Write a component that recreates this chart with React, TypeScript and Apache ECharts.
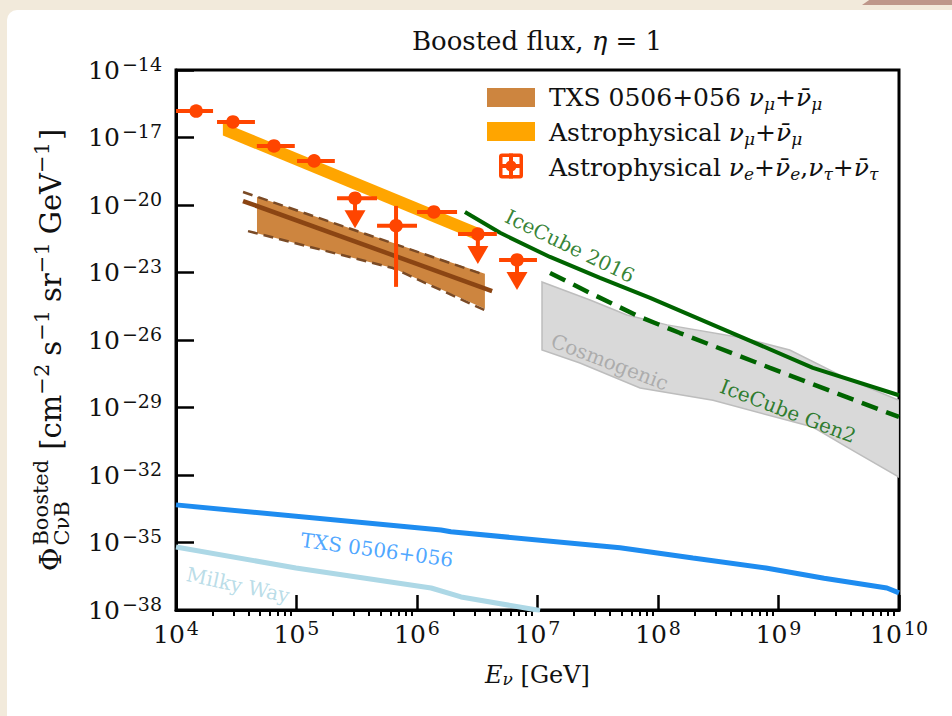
import React, { useEffect, useRef } from "react";
import * as echarts from "echarts";

const FONT = "'DejaVu Serif', 'Liberation Serif', serif";
const RED = "#FF4500";
const INK = "#111";

// ---------- axis ticks ----------
const xMajorTicks = [1e4, 1e5, 1e6, 1e7, 1e8, 1e9, 1e10];
const xMinorMultipliers = [2, 3, 4, 5, 6, 7, 8, 9];
const xMinorDecades = [1e4, 1e5, 1e6, 1e7, 1e8, 1e9];
const yMajorTicks = [1e-38, 1e-35, 1e-32, 1e-29, 1e-26, 1e-23, 1e-20, 1e-17, 1e-14];

// ---------- Astrophysical nu_e, nu_tau (error bars) ----------
const astroE = [1.47e4, 2.97e4, 6.5e4, 1.4e5, 3.06e5, 6.7e5, 1.38e6, 3.2e6, 6.76e6];
const astroF = [1.5e-16, 4.9e-17, 4.2e-18, 9.1e-19, 2.0e-20, 1.2e-21, 4.9e-21, 5.1e-22, 3.6e-23];
const astroElo = [1.0e4, 2.19e4, 4.69e4, 1.01e5, 2.17e5, 4.66e5, 1.0e6, 2.19e6, 4.8e6];
const astroEhi = [2.03e4, 4.52e4, 9.68e4, 2.08e5, 4.66e5, 1.0e6, 2.15e6, 4.6e6, 9.9e6];
const astroFlo = [1.5e-16, 4.9e-17, 4.2e-18, 9.1e-19, 2.0e-20, 2.3e-24, 4.9e-21, 5.1e-22, 3.6e-23];
const astroFhi = [1.5e-16, 4.9e-17, 4.2e-18, 9.1e-19, 2.0e-20, 9.1e-21, 4.9e-21, 5.1e-22, 3.6e-23];
const astroUL = [0, 0, 0, 0, 1, 0, 0, 1, 1];

// ---------- Astrophysical nu_mu band ----------
const astroMuE = [2.45e4, 3.2e6];
const astroMuLo = [1.23e-17, 2.6e-22];
const astroMuHi = [4.7e-17, 1.0e-21];

// ---------- TXS 0506+056 nu_mu band ----------
const txsBandE = [4.7e4, 6.3e5, 3.66e6];
const txsBandLo = [5.5e-22, 1.58e-23, 2.45e-25];
const txsBandHi = [2.34e-20, 2.1e-22, 8.7e-24];
const txsUpperE = [3.6e4, 3.66e6];
const txsUpperF = [3.8e-20, 7.8e-24];
const txsLowerE = [3.96e4, 6.3e5, 3.66e6];
const txsLowerF = [6.9e-22, 1.58e-23, 2.1e-25];
const txsMidE = [3.6e4, 4.2e6];
const txsMidF = [1.5e-20, 1.5e-24];

// ---------- IceCube ----------
const ic2016E = [2.5e6, 4.89e6, 1.27e7, 3.3e7, 8.6e7, 2.86e8, 1.93e9, 1e10];
const ic2016F = [4.9e-21, 5.8e-22, 4.9e-23, 5.8e-24, 7.4e-25, 4.7e-26, 5.8e-28, 3.5e-29];
const gen2E = [1.27e7, 2.73e7, 7.1e7, 1.52e8, 8.5e8, 1e10];
const gen2F = [9.5e-24, 1.23e-24, 1.05e-25, 2.04e-26, 5.8e-28, 3.8e-30];

// ---------- Cosmogenic band ----------
const cosmoTopE = [1.09e7, 2.73e7, 5.53e7, 1.19e8, 5.07e8, 1.24e9, 3.92e9, 1e10];
const cosmoTopF = [3.8e-24, 6.0e-25, 1.29e-25, 4.7e-26, 1.23e-26, 3.6e-27, 1.66e-28, 2.1e-29];
const cosmoBotE = [1.09e7, 2.25e7, 7.1e7, 2.86e8, 1.93e9, 3.7e9, 1e10];
const cosmoBotF = [3.6e-27, 9.5e-28, 7.4e-29, 2.1e-29, 1.35e-30, 1.74e-31, 8.1e-33];

// ---------- Boosted CnuB fluxes ----------
const txsBoostE = [1e4, 1.58e6, 1.91e6, 4.84e7, 1.95e8, 7.87e8, 2.39e9, 7.94e9, 1e10];
const txsBoostF = [4.7e-34, 3.6e-35, 3.0e-35, 5.8e-36, 2.04e-36, 7.4e-37, 2.6e-37, 9.5e-38, 5.8e-38];
const milkyE = [1e4, 9.9e4, 1.31e6, 2.32e6, 1.05e7];
const milkyF = [6.3e-36, 7.4e-37, 9.5e-38, 3.8e-38, 9.5e-39];

// ---------- annotations ----------
const annoText = ["IceCube 2016", "IceCube Gen2", "Cosmogenic", "TXS 0506+056", "Milky Way"];
const annoE = [1.86e7, 1.2e9, 3.98e7, 4.66e5, 3.27e4];
const annoF = [1.5e-22, 6.9e-30, 1.05e-27, 4.7e-36, 1.3e-37];
const annoRot = [-26, -21, -21, -7.5, -12];
const annoColor = ["#006400", "#006400", "#A0A0A0", "#1E90FF", "#A8D4E2"];

function pairs(E: number[], F: number[]) {
  return E.map((e, i) => [e, F[i]]);
}

function polygonSeries(name: string, verts: number[][], style: any, z: number) {
  return {
    type: "custom",
    name,
    z,
    silent: true,
    coordinateSystem: "cartesian2d",
    clip: true,
    data: verts,
    encode: { x: 0, y: 1 },
    renderItem: (params: any, api: any) => {
      if (params.dataIndex !== 0) return null;
      const pts = verts.map((v) => api.coord(v));
      return { type: "polygon", shape: { points: pts }, style };
    },
  };
}

function lineSeries(name: string, E: number[], F: number[], color: string, width: number, type: any, z: number) {
  return {
    type: "line",
    name,
    z,
    silent: true,
    clip: true,
    showSymbol: false,
    symbol: "none",
    data: pairs(E, F),
    lineStyle: { color, width, type, cap: "butt" },
  };
}

export default function App() {
  const ref = useRef<HTMLDivElement>(null);

  useEffect(() => {
    const el = ref.current;
    if (!el) return;
    const chart = echarts.init(el, null, { renderer: "svg" });

    const ctx = document.createElement("canvas").getContext("2d") as CanvasRenderingContext2D;
    const mw = (t: string, size: number) => {
      ctx.font = `${size}px 'DejaVu Serif'`;
      return ctx.measureText(t).width;
    };

    const xMinorTicks: number[] = [];
    xMinorDecades.forEach((d) => xMinorMultipliers.forEach((m) => xMinorTicks.push(m * d)));

    const tickRich = {
      b: { fontFamily: FONT, fontSize: 25, color: INK, lineHeight: 32 },
      s: { fontFamily: FONT, fontSize: 19, color: INK, verticalAlign: "top", lineHeight: 18, padding: [0, 0, 0, 2] },
    };

    const txtStyle = (size: number, extra: any = {}) => ({
      fontFamily: FONT,
      fontSize: size,
      fill: INK,
      align: "left",
      verticalAlign: "middle",
      textAlign: "left",
      textVerticalAlign: "middle",
      ...extra,
    });

    // ----- y-axis name (rotated, built piece by piece) -----
    const YS = 29;
    const YSS = 21;
    const pieces: [string, number, number, number][] = [
      ["[cm", YS, 0, 0],
      ["−2", YSS, -9, 8],
      ["s", YS, 0, 0],
      ["−1", YSS, -9, 8],
      ["sr", YS, 0, 0],
      ["−1", YSS, -9, 8],
      ["GeV", YS, 0, 0],
      ["−1", YSS, -9, 2],
      ["]", YS, 0, 0],
    ];
    const wPhi = mw("Φ", YS);
    const wScripts = Math.max(mw("Boosted", YSS), mw("CνB", YSS));
    const children: any[] = [
      { type: "text", x: 0, y: 0, style: { text: "Φ", ...txtStyle(YS) } },
      { type: "text", x: wPhi + 2, y: -10, style: { text: "Boosted", ...txtStyle(YSS) } },
      { type: "text", x: wPhi + 2, y: 11, style: { text: "CνB", ...txtStyle(YSS) } },
    ];
    let cursor = wPhi + 2 + wScripts + 10;
    pieces.forEach(([t, size, dy, gap]) => {
      children.push({ type: "text", x: cursor, y: dy, style: { text: t, ...txtStyle(size) } });
      cursor += mw(t, size) + gap;
    });
    const total = cursor;
    const yName = {
      type: "group",
      x: 51,
      y: 350 + total / 2,
      rotation: Math.PI / 2,
      children,
    };

    // ----- legend -----
    const LS = 25;
    const legRich = {
      g: { fontFamily: FONT, fontSize: LS, fontStyle: "italic", fill: INK, lineHeight: 30 },
      sub: { fontFamily: FONT, fontSize: 17, fontStyle: "italic", fill: INK, verticalAlign: "bottom", lineHeight: 16 },
    };
    const legText = (y: number, text: string) => ({
      type: "text",
      x: 549,
      y,
      z: 20,
      style: { text, ...txtStyle(LS, { lineHeight: 30 }), rich: legRich },
    });
    const legend = [
      { type: "rect", z: 20, shape: { x: 487, y: 88, width: 48, height: 19 }, style: { fill: "#CD853F" } },
      legText(97, "TXS 0506+056 {g|ν}{sub|μ}+{g|ν\u0304}{sub|μ}"),
      { type: "rect", z: 20, shape: { x: 487, y: 122, width: 48, height: 19 }, style: { fill: "#FFA500" } },
      legText(132, "Astrophysical {g|ν}{sub|μ}+{g|ν\u0304}{sub|μ}"),
      {
        type: "group",
        x: 511,
        y: 166,
        z: 20,
        children: [
          { type: "rect", shape: { x: -12, y: -12.5, width: 24, height: 25, r: 3 }, style: { fill: RED } },
          { type: "rect", shape: { x: -8.5, y: -9, width: 17, height: 18 }, style: { fill: "#fff" } },
          { type: "rect", shape: { x: -12, y: -2, width: 24, height: 4 }, style: { fill: RED } },
          { type: "rect", shape: { x: -2, y: -12.5, width: 4, height: 25 }, style: { fill: RED } },
          { type: "circle", shape: { cx: 0, cy: 0, r: 5.5 }, style: { fill: RED } },
        ],
      },
      legText(167, "Astrophysical {g|ν}{sub|e}+{g|ν\u0304}{sub|e},{g|ν}{sub|τ}+{g|ν\u0304}{sub|τ}"),
    ];

    const cosmoVerts = [...pairs(cosmoTopE, cosmoTopF), ...pairs(cosmoBotE, cosmoBotF).reverse()];
    const txsVerts = [...pairs(txsBandE, txsBandHi), ...pairs(txsBandE, txsBandLo).reverse()];
    const astroMuVerts = [...pairs(astroMuE, astroMuHi), ...pairs(astroMuE, astroMuLo).reverse()];

    const errorSeries = {
      type: "custom",
      name: "Astrophysical nu_e, nu_tau",
      z: 8,
      silent: true,
      coordinateSystem: "cartesian2d",
      clip: true,
      data: pairs(astroE, astroF),
      encode: { x: 0, y: 1 },
      renderItem: (params: any, api: any) => {
        const i = params.dataIndex;
        const c = api.coord([astroE[i], astroF[i]]);
        const xl = api.coord([astroElo[i], astroF[i]])[0];
        const xh = api.coord([astroEhi[i], astroF[i]])[0];
        const st = { stroke: RED, lineWidth: 4 };
        const kids: any[] = [{ type: "line", shape: { x1: xl, y1: c[1], x2: xh, y2: c[1] }, style: st }];
        if (astroFhi[i] !== astroFlo[i]) {
          const yt = api.coord([astroE[i], astroFhi[i]])[1];
          const yb = api.coord([astroE[i], astroFlo[i]])[1];
          kids.push({ type: "line", shape: { x1: c[0], y1: yt, x2: c[0], y2: yb }, style: st });
        }
        if (astroUL[i]) {
          kids.push({ type: "line", shape: { x1: c[0], y1: c[1], x2: c[0], y2: c[1] + 14 }, style: st });
          kids.push({
            type: "polygon",
            shape: { points: [[c[0] - 10.5, c[1] + 12], [c[0] + 10.5, c[1] + 12], [c[0], c[1] + 30]] },
            style: { fill: RED },
          });
        }
        kids.push({ type: "circle", shape: { cx: c[0], cy: c[1], r: 6.8 }, style: { fill: RED } });
        return { type: "group", children: kids };
      },
    };

    const annoSeries = {
      type: "scatter",
      name: "annotations",
      z: 9,
      silent: true,
      symbolSize: 0,
      data: annoText.map((t, i) => ({
        value: [annoE[i], annoF[i]],
        label: {
          show: true,
          position: "inside",
          formatter: t,
          rotate: annoRot[i],
          color: annoColor[i],
          fontFamily: FONT,
          fontSize: 20,
        },
      })),
    };

    const option: any = {
      animation: false,
      backgroundColor: "transparent",
      title: {
        text: "Boosted flux, {i|η} = 1",
        left: 537,
        top: 28,
        textAlign: "center",
        padding: 0,
        textStyle: {
          fontFamily: FONT,
          fontSize: 26,
          fontWeight: "normal",
          color: INK,
          rich: { i: { fontFamily: FONT, fontSize: 26, fontStyle: "italic", color: INK } },
        },
      },
      grid: {
        left: 176,
        right: 53,
        top: 70,
        bottom: 106,
        show: true,
        borderColor: "#000",
        borderWidth: 3,
        backgroundColor: "transparent",
        containLabel: false,
        outerBoundsMode: "none",
      },
      xAxis: [
        {
          type: "log",
          logBase: 10,
          min: 1e4,
          max: 1e10,
          position: "bottom",
          name: "{i|E}{sub|ν} {t|[GeV]}",
          nameLocation: "middle",
          nameGap: 53,
          nameTextStyle: {
            fontFamily: FONT,
            fontSize: 24,
            color: INK,
            rich: {
              t: { fontFamily: FONT, fontSize: 24, color: INK },
              i: { fontFamily: FONT, fontSize: 24, fontStyle: "italic", color: INK },
              sub: { fontFamily: FONT, fontSize: 17, fontStyle: "italic", color: INK, verticalAlign: "bottom", lineHeight: 18 },
            },
          },
          axisLine: { show: true, onZero: false, lineStyle: { color: "#000", width: 3 } },
          axisTick: { show: true, inside: true, length: 15, customValues: xMajorTicks, lineStyle: { color: "#000", width: 2.5 } },
          axisLabel: {
            show: true,
            customValues: xMajorTicks,
            margin: 8,
            formatter: (v: number) => `{b|10}{s|${Math.round(Math.log10(v))}}`,
            rich: tickRich,
          },
          splitLine: { show: false },
          minorTick: { show: false },
        },
        {
          type: "log",
          logBase: 10,
          min: 1e4,
          max: 1e10,
          position: "bottom",
          axisLine: { show: false, onZero: false },
          axisTick: { show: true, inside: false, length: 6, customValues: xMinorTicks, lineStyle: { color: "#000", width: 2 } },
          axisLabel: { show: false },
          splitLine: { show: false },
        },
      ],
      yAxis: {
        type: "log",
        logBase: 10,
        min: 1e-38,
        max: 1e-14,
        axisLine: { show: true, onZero: false, lineStyle: { color: "#000", width: 3 } },
        axisTick: { show: true, inside: true, length: 18, customValues: yMajorTicks, lineStyle: { color: "#000", width: 2.5 } },
        axisLabel: {
          show: true,
          customValues: yMajorTicks,
          margin: 14,
          formatter: (v: number) => `{b|10}{s|−${Math.abs(Math.round(Math.log10(v)))}}`,
          rich: tickRich,
        },
        splitLine: { show: false },
        minorTick: { show: false },
      },
      graphic: [yName, ...legend],
      series: [
        polygonSeries("Cosmogenic", cosmoVerts, { fill: "#D9D9D9", stroke: "#BDBDBD", lineWidth: 1.5 }, 1),
        lineSeries("Milky Way", milkyE, milkyF, "#ADD8E6", 5, "solid", 2),
        lineSeries("TXS 0506+056 boosted", txsBoostE, txsBoostF, "#1E8CF0", 5, "solid", 2),
        lineSeries("IceCube 2016", ic2016E, ic2016F, "#006400", 4, "solid", 3),
        lineSeries("IceCube Gen2", gen2E, gen2F, "#006400", 4.5, [17, 9], 3),
        polygonSeries("TXS 0506+056 numu", txsVerts, { fill: "#CD853F" }, 4),
        lineSeries("TXS upper", txsUpperE, txsUpperF, "#7A4A25", 2.5, [10, 6], 5),
        lineSeries("TXS lower", txsLowerE, txsLowerF, "#7A4A25", 2.5, [10, 6], 5),
        lineSeries("TXS central", txsMidE, txsMidF, "#8B4513", 4.5, "solid", 5),
        polygonSeries("Astrophysical numu", astroMuVerts, { fill: "#FFA500" }, 6),
        errorSeries,
        annoSeries,
      ],
    };

    chart.setOption(option);
    return () => chart.dispose();
  }, []);

  return (
    <div style={{ position: "fixed", left: 0, top: 0, width: 952, height: 716, background: "#F2EADB", overflow: "hidden" }}>
      <div
        style={{
          position: "absolute",
          left: 7,
          top: 10,
          width: 960,
          height: 720,
          background: "#ffffff",
          borderTopLeftRadius: 10,
        }}
      />
      <div
        style={{
          position: "absolute",
          right: 0,
          top: 0,
          width: 90,
          height: 5,
          background: "#BE978A",
          clipPath: "polygon(8% 0, 100% 0, 100% 100%, 0 100%)",
        }}
      />
      <div ref={ref} style={{ position: "absolute", left: 0, top: 0, width: 952, height: 716 }} />
    </div>
  );
}
